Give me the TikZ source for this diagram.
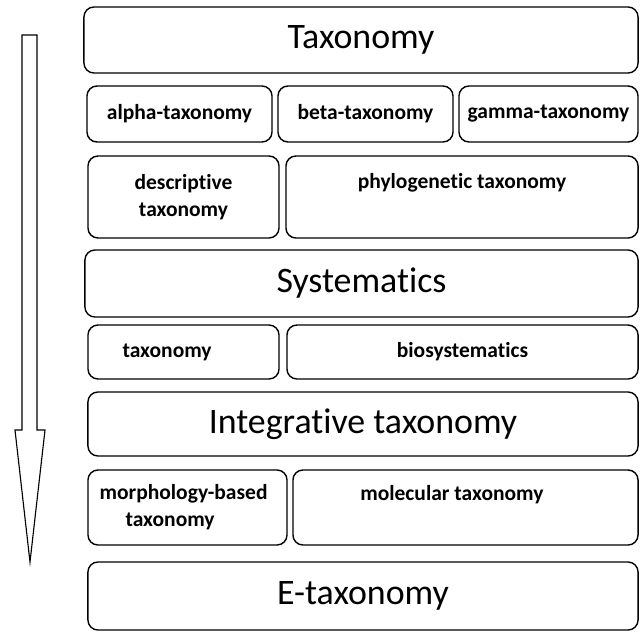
\documentclass[tikz,border=0pt]{standalone}
\usepackage{fontspec}
\setmainfont{Carlito}[Ligatures=NoCommon]
\usetikzlibrary{positioning}

\begin{document}
\begin{tikzpicture}
    [x=0.025cm, y=-0.025cm,
    block/.style={draw, line width=1pt, rounded corners=0.25cm, inner sep=0pt},
    headblock/.style={block, font=\fontsize{25.5}{29}\selectfont},
    subblock/.style={block, font=\bfseries\fontsize{15.3}{19.3}\selectfont, align=center},
    subtext/.style={font=\bfseries\fontsize{15.3}{19.3}\selectfont, align=left, inner sep=0pt},
    flow/.style={draw, line width=0.8pt, line join=miter}]
    \useasboundingbox (0,0) rectangle (640,632);
    % levels
    \node [headblock, minimum width=13.85cm, minimum height=1.65cm] (taxonomy) at (361,40) {Taxonomy};
    \node [subblock, minimum width=4.625cm, minimum height=1.4cm] (alpha) at (179.5,114) {alpha-taxonomy};
    \node [subblock, minimum width=4.375cm, minimum height=1.4cm] (beta) at (365.5,114) {beta-taxonomy};
    \node [subblock, minimum width=4.475cm, minimum height=1.4cm] (gamma) at (548.5,114) {gamma-taxonomy};
    \node [subblock, minimum width=4.775cm, minimum height=2.05cm] (descr) at (183.5,197) {descriptive\\taxonomy};
    \node [block, minimum width=8.8cm, minimum height=2.05cm] (phylo) at (462,197) {};
    \node [subtext] (phylo_txt) at ([yshift=-0.675cm]phylo.north) {phylogenetic taxonomy};
    \node [headblock, minimum width=13.825cm, minimum height=1.675cm] (system) at (361.5,283.5) {Systematics};
    \node [block, minimum width=4.775cm, minimum height=1.35cm] (taxtwo) at (183.5,352) {};
    \node [subtext, anchor=west] (taxtwo_txt) at ([xshift=0.875cm]taxtwo.west) {taxonomy};
    \node [subblock, minimum width=8.775cm, minimum height=1.35cm] (biosys) at (462.5,352) {biosystematics};
    \node [headblock, minimum width=13.75cm, minimum height=1.6cm] (integr) at (363,424) {Integrative taxonomy};
    \node [block, minimum width=4.975cm, minimum height=1.875cm] (morph) at (187.5,507.5) {};
    \node [subtext, anchor=west] (morph_txt) at ([xshift=0.3cm]morph.west)
    {morphology-based\\\hspace*{0.65cm}taxonomy};
    \node [block, minimum width=8.625cm, minimum height=1.875cm] (molec) at (465.5,507.5) {};
    \node [subtext] (molec_txt) at ([xshift=-0.34cm, yshift=-0.625cm]molec.north) {molecular taxonomy};
    \node [headblock, minimum width=13.75cm, minimum height=1.7cm] (etax) at (363,596) {E-taxonomy};
    % time arrow
    \draw [flow] (22,35) -- (37,35) -- (37,430) -- (45,430) -- (30,562) -- (15,430) -- (22,430) -- cycle;
  \end{tikzpicture}
\end{document}
